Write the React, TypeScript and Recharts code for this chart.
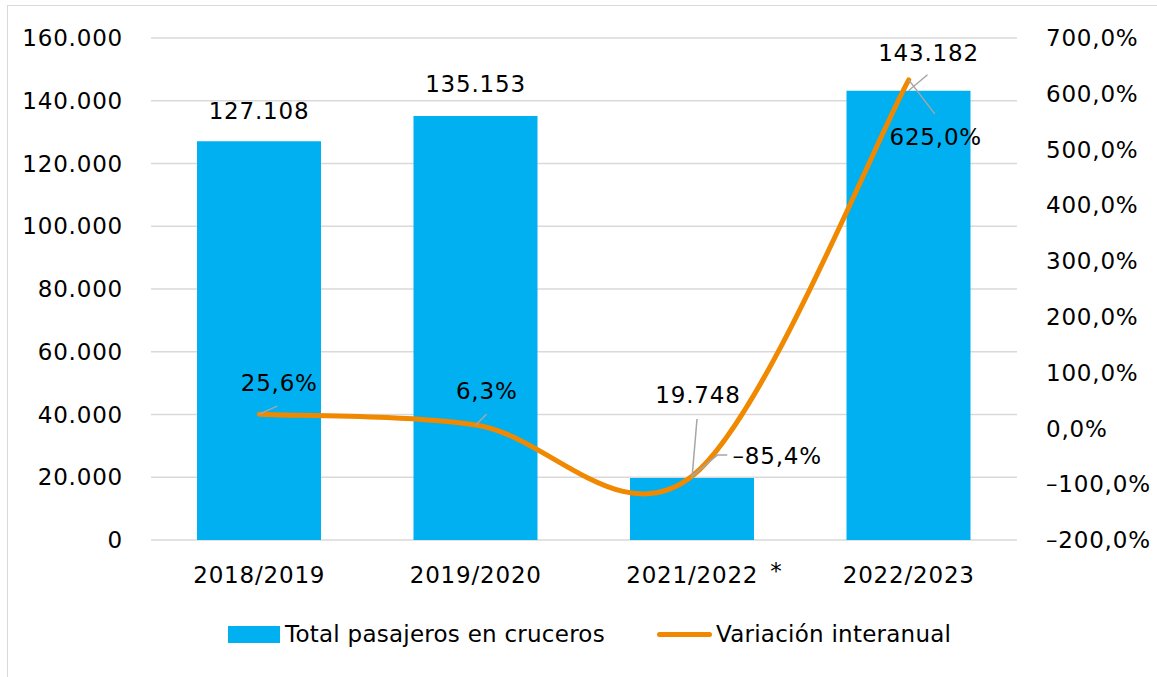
import React from 'react';
import { ComposedChart, Bar, Line, XAxis, YAxis, CartesianGrid, LabelList, Legend } from 'recharts';

const categories = ['2018/2019', '2019/2020', '2021/2022 *', '2022/2023'];
const passengers = [127108, 135153, 19748, 143182];
const variation = [25.6, 6.3, -85.4, 625.0];
const leftTicks = [0, 20000, 40000, 60000, 80000, 100000, 120000, 140000, 160000];
const rightTicks = [-200, -100, 0, 100, 200, 300, 400, 500, 600, 700];

const seriesNames = ['Total pasajeros en cruceros', 'Variación interanual'];

const data = categories.map((c, i) => ({ name: c, passengers: passengers[i], variation: variation[i] }));

// label placement (layout only): label center offset from mark anchor, optional leader path offsets from label center
const barLabelLayout = [
  { dx: 0, dy: -30, leader: null as null | number[][] },
  { dx: 0, dy: -32, leader: null },
  { dx: 6, dy: -83, leader: [[-1, 24]] },
  { dx: 20, dy: -38, leader: [[-1, 22]] },
];
const lineLabelLayout = [
  { dx: 20, dy: -31, leader: [[-2, 23]] },
  { dx: 11, dy: -34, leader: [[0, 23]] },
  { dx: 85, dy: -20, leader: [[-50, -1], [-60, -1]] },
  { dx: 27, dy: 57, leader: [[-1, -23]] },
];

const FONT = 'DejaVu Sans, Verdana, sans-serif';
const FS = 23;
const LS = 0.8;
const BLUE = '#00B0F0';
const ORANGE = '#F08800';
const GRID = '#D9D9D9';
const LEADER = '#A6A6A6';

const fmtThousands = (n: number) => String(Math.round(n)).replace(/\B(?=(\d{3})+(?!\d))/g, '.');
const fmtPct = (v: number) => (v < 0 ? '–' : '') + Math.abs(v).toFixed(1).replace('.', ',') + '%';

// Catmull-Rom style smoothing (like spreadsheet smoothed lines)
const smoothCurve: any = (context: any) => {
  let pts: number[][] = [];
  return {
    areaStart() {},
    areaEnd() {},
    lineStart() { pts = []; },
    point(x: number, y: number) { pts.push([+x, +y]); },
    lineEnd() {
      if (!pts.length) return;
      context.moveTo(pts[0][0], pts[0][1]);
      for (let i = 0; i < pts.length - 1; i++) {
        const p0 = pts[i - 1] || pts[i];
        const p1 = pts[i];
        const p2 = pts[i + 1];
        const p3 = pts[i + 2] || p2;
        context.bezierCurveTo(
          p1[0] + (p2[0] - p0[0]) / 6, p1[1] + (p2[1] - p0[1]) / 6,
          p2[0] - (p3[0] - p1[0]) / 6, p2[1] - (p3[1] - p1[1]) / 6,
          p2[0], p2[1]
        );
      }
    },
  };
};

const renderLeader = (cx: number, cy: number, leader: number[][] | null, ex: number, ey: number) => {
  if (!leader) return null;
  const pts = leader.map(([a, b]) => `${cx + a},${cy + b}`);
  pts.push(`${ex},${ey}`);
  return <polyline points={pts.join(' ')} fill="none" stroke={LEADER} strokeWidth={1.5} />;
};

const BarLabel = (props: any) => {
  const { x, y, width, value, index } = props;
  const lay = barLabelLayout[index];
  const ax = x + width / 2;
  const ay = y;
  const cx = ax + lay.dx;
  const cy = ay + lay.dy;
  return (
    <g>
      {renderLeader(cx, cy, lay.leader, ax, ay)}
      <text x={cx} y={cy} dy="0.355em" textAnchor="middle" fontFamily={FONT} fontSize={FS} letterSpacing={LS} fill="#000">
        {fmtThousands(value)}
      </text>
    </g>
  );
};

const LineLabel = (props: any) => {
  const { x, y, value, index } = props;
  const lay = lineLabelLayout[index];
  const cx = x + lay.dx;
  const cy = y + lay.dy;
  return (
    <g>
      {renderLeader(cx, cy, lay.leader, x, y)}
      <text x={cx} y={cy} dy="0.355em" textAnchor="middle" fontFamily={FONT} fontSize={FS} letterSpacing={LS} fill="#000">
        {fmtPct(value)}
      </text>
    </g>
  );
};

const XTick = (props: any) => {
  const { x, y, payload } = props;
  const label: string = payload.value;
  const star = label.endsWith(' *');
  const main = star ? label.slice(0, -2) : label;
  return (
    <g>
      <text x={x} y={y} dy="0.71em" textAnchor="middle" fontFamily={FONT} fontSize={FS} letterSpacing={LS} fill="#000">{main}</text>
      {star && (
        <text x={x + 78} y={y - 4} dy="0.71em" textAnchor="start" fontFamily={FONT} fontSize={FS} fill="#000">*</text>
      )}
    </g>
  );
};

const LegendContent = () => (
  <div style={{ display: 'flex', alignItems: 'center', fontFamily: FONT, fontSize: FS, color: '#000', whiteSpace: 'nowrap', letterSpacing: 0.25 }}>
    <div style={{ width: 52, height: 17, background: BLUE, marginRight: 5 }} />
    <span>{seriesNames[0]}</span>
    <div style={{ width: 55, height: 5, borderRadius: 3, background: ORANGE, marginLeft: 52, marginRight: 4 }} />
    <span>{seriesNames[1]}</span>
  </div>
);

export default function App() {
  return (
    <div style={{ position: 'fixed', left: 0, top: 0, width: 1157, height: 677, overflow: 'hidden', background: '#fff' }}>
      <div style={{ position: 'absolute', left: 7, top: 5, width: 1300, height: 800, border: `1.5px solid ${GRID}` }} />
      <div style={{ position: 'absolute', left: 0, top: 0 }}>
        <ComposedChart width={1157} height={677} data={data} margin={{ top: 38, right: 0, bottom: 97, left: 0 }}>
          <CartesianGrid yAxisId="left" vertical={false} stroke={GRID} strokeWidth={1.5} />
          <XAxis dataKey="name" height={40} axisLine={false} tickLine={false} tickSize={0} tickMargin={27} tick={<XTick />} interval={0} />
          <YAxis
            yAxisId="left"
            width={151}
            domain={[0, 160000]}
            ticks={leftTicks}
            axisLine={false}
            tickLine={false}
            tickSize={0}
            tickMargin={28}
            tickFormatter={fmtThousands}
            tick={{ fontFamily: FONT, fontSize: FS, fill: '#000', letterSpacing: LS }}
          />
          <YAxis
            yAxisId="right"
            orientation="right"
            width={140}
            domain={[-200, 700]}
            ticks={rightTicks}
            axisLine={false}
            tickLine={false}
            tickSize={0}
            tickMargin={29}
            tickFormatter={fmtPct}
            tick={{ fontFamily: FONT, fontSize: FS, fill: '#000', letterSpacing: LS }}
          />
          <Legend
            layout="horizontal"
            verticalAlign="middle"
            align="center"
            wrapperStyle={{ top: 621, left: 228, width: 800, height: 30 }}
            content={<LegendContent />}
          />
          <Bar yAxisId="left" dataKey="passengers" name={seriesNames[0]} fill={BLUE} barSize={124} isAnimationActive={false}>
            <LabelList dataKey="passengers" content={<BarLabel />} />
          </Bar>
          <Line
            yAxisId="right"
            dataKey="variation"
            name={seriesNames[1]}
            type={smoothCurve}
            stroke={ORANGE}
            strokeWidth={5}
            strokeLinecap="round"
            dot={false}
            activeDot={false}
            isAnimationActive={false}
          >
            <LabelList dataKey="variation" content={<LineLabel />} />
          </Line>
        </ComposedChart>
      </div>
    </div>
  );
}
